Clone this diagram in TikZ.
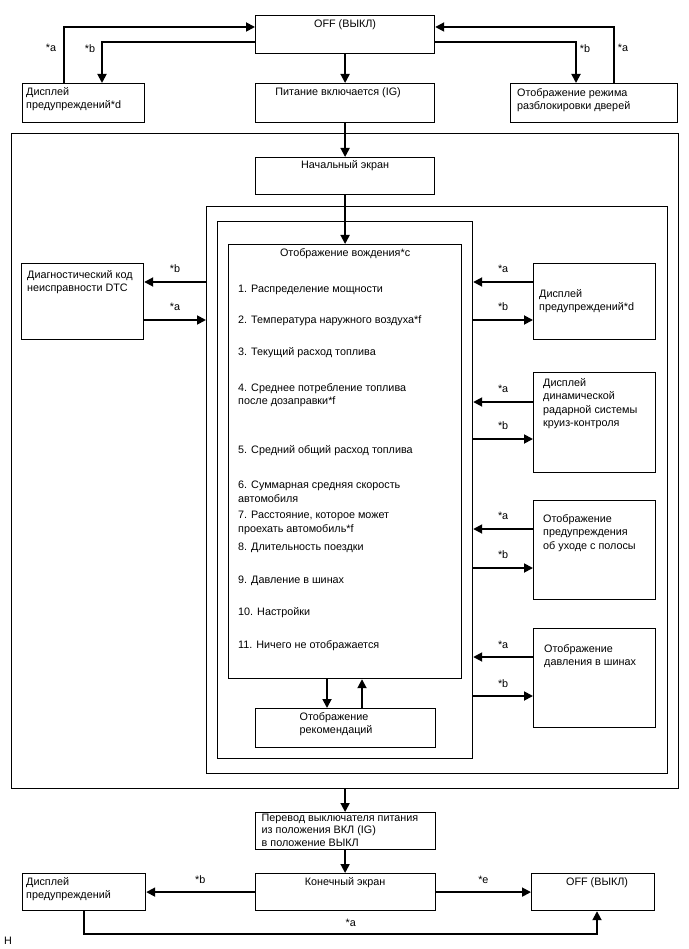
\documentclass[tikz,border=0pt]{standalone}
\usepackage{fontspec}
\setmainfont{Liberation Sans}
\usetikzlibrary{arrows.meta,positioning}

\begin{document}
\begin{tikzpicture}[x=1pt,y=-1pt,
   box/.style={draw,line width=1.2pt,anchor=north west,inner sep=0pt},
   txt/.style={font=\fontsize{10.8}{13.5}\selectfont,align=left,inner xsep=4pt,inner ysep=4pt},
   lab/.style={font=\fontsize{10.8}{13.5}\selectfont,inner sep=1pt},
   a/.style={-{Triangle[length=9pt,width=9pt]},line width=1.8pt}]
  \useasboundingbox (0,0) rectangle (688,949);
  % frames
  \node[box,minimum width=667pt,minimum height=655pt] (outer) at (11,133) {};
  \node[box,minimum width=461pt,minimum height=567pt] (mid) at (206,206) {};
  \node[box,minimum width=255pt,minimum height=537pt] (inner) at (217,221) {};
  % top row
  \node[box,minimum width=179pt,minimum height=38pt,label={[txt,anchor=north]north:OFF (ВЫКЛ)}] (off) at (255,15) {};
  \node[box,minimum width=122pt,minimum height=39pt,label={[txt,anchor=north west]north west:Дисплей\\предупреждений*d}] (lwd) at (22,83) {};
  \node[box,minimum width=179pt,minimum height=39pt,label={[txt,anchor=north,xshift=-7pt]north:Питание включается (IG)}] (pwr) at (255,83) {};
  \node[box,minimum width=167pt,minimum height=39pt,label={[txt,anchor=north west,xshift=3pt,yshift=-1pt]north west:Отображение режима\\разблокировки дверей}] (rdoor) at (510,83) {};
  \node[box,minimum width=179pt,minimum height=37pt,label={[txt,anchor=north,yshift=1pt]north:Начальный экран}] (start) at (255,157) {};
  % driving display
  \node[box,minimum width=233pt,minimum height=434pt,label={[txt,anchor=north]north:Отображение вождения*c}] (drive) at (228,244) {};
  \node[txt,anchor=west,inner xsep=0pt] (i1) at (238,290) {1. Распределение мощности};
  \node[txt,anchor=west,inner xsep=0pt] (i2) at (238,321) {2. Температура наружного воздуха*f};
  \node[txt,anchor=west,inner xsep=0pt] (i3) at (238,353) {3. Текущий расход топлива};
  \node[txt,anchor=west,inner xsep=0pt] (i4) at (238,395) {4. Среднее потребление топлива\\после дозаправки*f};
  \node[txt,anchor=west,inner xsep=0pt] (i5) at (238,451) {5. Средний общий расход топлива};
  \node[txt,anchor=west,inner xsep=0pt] (i6) at (238,492) {6. Суммарная средняя скорость\\автомобиля};
  \node[txt,anchor=west,inner xsep=0pt] (i7) at (238,523) {7. Расстояние, которое может\\проехать автомобиль*f};
  \node[txt,anchor=west,inner xsep=0pt] (i8) at (238,548) {8. Длительность поездки};
  \node[txt,anchor=west,inner xsep=0pt] (i9) at (238,581) {9. Давление в шинах};
  \node[txt,anchor=west,inner xsep=0pt] (i10) at (238,613) {10. Настройки};
  \node[txt,anchor=west,inner xsep=0pt] (i11) at (238,646) {11. Ничего не отображается};
  \node[box,minimum width=180pt,minimum height=39pt,label={[txt,anchor=north west,xshift=41pt]north west:Отображение\\рекомендаций}] (rec) at (254.5,708) {};
  % side boxes
  \node[box,minimum width=122pt,minimum height=76pt,label={[txt,anchor=north west,xshift=2pt,yshift=-3pt]north west:Диагностический код\\неисправности DTC}] (dtc) at (21,263) {};
  \node[box,minimum width=122pt,minimum height=76pt,label={[txt,anchor=north west,xshift=2pt,yshift=-22pt]north west:Дисплей\\предупреждений*d}] (wd) at (533,263) {};
  \node[box,minimum width=122pt,minimum height=100pt,label={[txt,anchor=north west,xshift=6pt,yshift=-2pt]north west:Дисплей\\динамической\\радарной системы\\круиз-контроля}] (radar) at (533,372) {};
  \node[box,minimum width=122pt,minimum height=99pt,label={[txt,anchor=north west,xshift=6pt,yshift=-10pt]north west:Отображение\\предупреждения\\об уходе с полосы}] (lane) at (533,500) {};
  \node[box,minimum width=122pt,minimum height=99pt,label={[txt,anchor=north west,xshift=7pt,yshift=-12pt]north west:Отображение\\давления в шинах}] (tire) at (533,628) {};
  % bottom
  \node[box,minimum width=180pt,minimum height=37pt,label={[txt,anchor=north west,xshift=3pt,inner ysep=2pt,font=\fontsize{10.8}{12.3}\selectfont]north west:Перевод выключателя питания\\из положения ВКЛ (IG)\\в положение ВЫКЛ}] (sw) at (254.5,812) {};
  \node[box,minimum width=180pt,minimum height=37pt,label={[txt,anchor=north]north:Конечный экран}] (end) at (254.5,873) {};
  \node[box,minimum width=123pt,minimum height=37pt,label={[txt,anchor=north west]north west:Дисплей\\предупреждений}] (bwarn) at (22,873) {};
  \node[box,minimum width=123pt,minimum height=37pt,label={[txt,anchor=north,xshift=4pt]north:OFF (ВЫКЛ)}] (off2) at (531,873) {};
  \node[txt,anchor=west,inner xsep=0pt] (hcode) at (4,941) {H};
  % connectors, top
  \draw[a] (lwd.north -| 64,0) |- node[lab,left=6pt,pos=0.31]{*a} (off.west |- 0,27);
  \draw[a] (off.west |- 0,42) -| node[lab,left=5pt,pos=0.58]{*b} (lwd.north -| 102,0);
  \draw[a] (off) -- (pwr);
  \draw[a] (off.east |- 0,42) -| node[lab,right=2pt,pos=0.58]{*b} (rdoor.north -| 576,0);
  \draw[a] (rdoor.north -| 614,0) |- node[lab,right=2pt,pos=0.31]{*a} (off.east |- 0,27);
  \draw[a] (pwr) -- (start);
  \draw[a] (start) -- (drive);
  % connectors, sides
  \draw[a] (mid.west |- 0,282) -- node[lab,above=7pt]{*b} (dtc.east |- 0,282);
  \draw[a] (dtc.east |- 0,320) -- node[lab,above=7pt]{*a} (mid.west |- 0,320);
  \draw[a] (wd.west |- 0,282) -- node[lab,above=7pt]{*a} (inner.east |- 0,282);
  \draw[a] (inner.east |- 0,320) -- node[lab,above=7pt]{*b} (wd.west |- 0,320);
  \draw[a] (radar.west |- 0,402) -- node[lab,above=7pt]{*a} (inner.east |- 0,402);
  \draw[a] (inner.east |- 0,439) -- node[lab,above=7pt]{*b} (radar.west |- 0,439);
  \draw[a] (lane.west |- 0,529) -- node[lab,above=7pt]{*a} (inner.east |- 0,529);
  \draw[a] (inner.east |- 0,568) -- node[lab,above=7pt]{*b} (lane.west |- 0,568);
  \draw[a] (tire.west |- 0,657) -- node[lab,above=7pt]{*a} (inner.east |- 0,657);
  \draw[a] (inner.east |- 0,696) -- node[lab,above=7pt]{*b} (tire.west |- 0,696);
  \draw[a] (drive.south -| 327,0) -- (rec.north -| 327,0);
  \draw[a] (rec.north -| 362,0) -- (drive.south -| 362,0);
  % connectors, bottom
  \draw[a] (outer) -- (sw);
  \draw[a] (sw) -- (end);
  \draw[a] (end) -- node[lab,above=7pt]{*b} (bwarn);
  \draw[a] (end) -- node[lab,above=7pt]{*e} (off2);
  \draw[a] (bwarn.south -| 84,0) -- ++(0,23) -| node[lab,above=6pt,pos=0.26]{*a} (off2.south -| 597,0);
\end{tikzpicture}
\end{document}
